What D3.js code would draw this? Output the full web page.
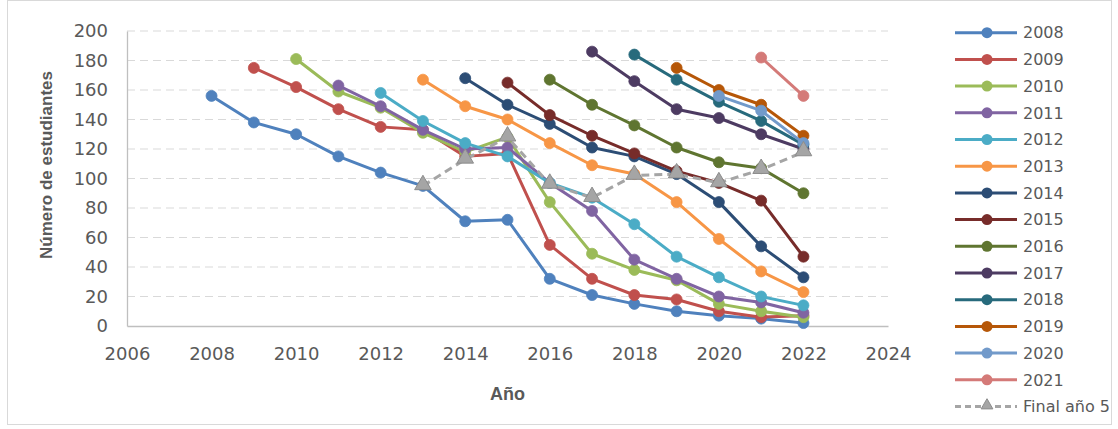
<!DOCTYPE html>
<html>
<head>
<meta charset="utf-8">
<script src="https://cdn.jsdelivr.net/npm/d3@7"></script>
<style>
  html, body { margin: 0; padding: 0; background: #fff; }
  svg { display: block; }
  text { font-family: "DejaVu Sans", "Liberation Sans", sans-serif; fill: #595959; }
  text.title { font-family: "Liberation Sans", "DejaVu Sans", sans-serif; }
</style>
</head>
<body>
<svg id="chart" width="1118" height="429"></svg>
<script>
// ---- Data ----
const cohorts = ["2008","2009","2010","2011","2012","2013","2014","2015","2016","2017","2018","2019","2020","2021"];
const cohortStart = [2008,2009,2010,2011,2012,2013,2014,2015,2016,2017,2018,2019,2020,2021];
const s2008 = [156, 138, 130, 115, 104, 95, 71, 72, 32, 21, 15, 10, 7, 5, 2];
const s2009 = [175, 162, 147, 135, 133, 115, 117, 55, 32, 21, 18, 10, 6, 7];
const s2010 = [181, 159, 148, 131, 118, 128, 84, 49, 38, 31, 15, 10, 6];
const s2011 = [163, 149, 133, 120, 121, 97, 78, 45, 32, 20, 16, 9];
const s2012 = [158, 139, 124, 115, 97, 87, 69, 47, 33, 20, 14];
const s2013 = [167, 149, 140, 124, 109, 103, 84, 59, 37, 23];
const s2014 = [168, 150, 137, 121, 115, 103, 84, 54, 33];
const s2015 = [165, 143, 129, 117, 105, 97, 85, 47];
const s2016 = [167, 150, 136, 121, 111, 107, 90];
const s2017 = [186, 166, 147, 141, 130, 120];
const s2018 = [184, 167, 152, 139, 123];
const s2019 = [175, 160, 150, 129];
const s2020 = [156, 146, 124];
const s2021 = [182, 156];
const seriesValues = [s2008, s2009, s2010, s2011, s2012, s2013, s2014, s2015, s2016, s2017, s2018, s2019, s2020, s2021];
const finalLabel = "Final año 5";
const finalYears = [2013, 2014, 2015, 2016, 2017, 2018, 2019, 2020, 2021, 2022];
const finalValues = [95, 113, 128, 96, 87, 102, 103, 97, 106, 118];
const xTicks = [2006, 2008, 2010, 2012, 2014, 2016, 2018, 2020, 2022, 2024];
const yTicks = [0, 20, 40, 60, 80, 100, 120, 140, 160, 180, 200];

const colors = ["#4F81BD","#C0504D","#9BBB59","#8064A2","#4BACC6","#F79646","#2C4D75","#772C2A","#5F7530","#4D3B62","#276A7C","#B65708","#729ACA","#D47A78"];

// ---- Layout ----
const svg = d3.select("#chart");
const L = 127, R = 888, T = 31, B = 326;
const x = d3.scaleLinear().domain([2006, 2024]).range([L, R]);
const y = d3.scaleLinear().domain([0, 200]).range([B, T]);

// frame
svg.append("rect").attr("x", 7.5).attr("y", 0.5).attr("width", 1104).attr("height", 424)
  .attr("fill", "none").attr("stroke", "#d9d9d9");

// gridlines
svg.append("g").selectAll("line").data(yTicks.filter(d => d > 0)).join("line")
  .attr("x1", L).attr("x2", R).attr("y1", d => y(d)).attr("y2", d => y(d))
  .attr("stroke", "#d9d9d9").attr("stroke-width", 1.2).attr("stroke-dasharray", "8,5");

// axes
const yAxis = d3.axisLeft(y).tickValues(yTicks).tickSize(0).tickPadding(19);
const gy = svg.append("g").attr("transform", `translate(${L},0)`).call(yAxis);
gy.select(".domain").attr("stroke", "#bfbfbf").attr("stroke-width", 1.3);
gy.selectAll("text").style("font-family", "DejaVu Sans").style("font-size", "18px").attr("fill", "#595959");

const xAxis = d3.axisBottom(x).tickValues(xTicks).tickFormat(d3.format("d")).tickSize(0).tickPadding(21);
const gx = svg.append("g").attr("transform", `translate(0,${B})`).call(xAxis);
gx.select(".domain").attr("stroke", "#bfbfbf").attr("stroke-width", 1.3);
gx.selectAll("text").style("font-family", "DejaVu Sans").style("font-size", "18px").attr("fill", "#595959");

// axis titles
svg.append("text").attr("class", "title").attr("x", (L + R) / 2).attr("y", 400).attr("text-anchor", "middle")
  .style("font-size", "18px").style("font-weight", "bold").text("Año");
svg.append("text").attr("class", "title").attr("transform", "translate(52,165) rotate(-90)").attr("text-anchor", "middle")
  .style("font-size", "17px").style("font-weight", "bold").text("Número de estudiantes");

// series
const line = d3.line().x(d => x(d[0])).y(d => y(d[1]));
seriesValues.forEach((vals, i) => {
  const pts = vals.map((v, j) => [cohortStart[i] + j, v]);
  const g = svg.append("g");
  g.append("path").datum(pts).attr("d", line).attr("fill", "none")
    .attr("stroke", colors[i]).attr("stroke-width", 3).attr("stroke-linejoin", "round");
  g.selectAll("circle").data(pts).join("circle")
    .attr("cx", d => x(d[0])).attr("cy", d => y(d[1])).attr("r", 5.5)
    .attr("fill", colors[i]).attr("stroke", colors[i]).attr("stroke-width", 0.8);
});

// final año 5
const fpts = finalYears.map((yr, j) => [yr, finalValues[j]]);
const tri = d3.symbol().type(d3.symbolTriangle).size(120);
const fg = svg.append("g");
fg.append("path").datum(fpts).attr("d", line).attr("fill", "none")
  .attr("stroke", "#A5A5A5").attr("stroke-width", 3).attr("stroke-dasharray", "8,5");
fg.selectAll("path.m").data(fpts).join("path").attr("class", "m")
  .attr("transform", d => `translate(${x(d[0])},${y(d[1]) - 1})`).attr("d", tri)
  .attr("fill", "#A5A5A5").attr("stroke", "#8c8c8c").attr("stroke-width", 1);

// legend
const legY0 = 32.7, legStep = 26.7;
const lg = svg.append("g");
cohorts.forEach((name, i) => {
  const yy = legY0 + i * legStep;
  lg.append("line").attr("x1", 955).attr("x2", 1017).attr("y1", yy).attr("y2", yy)
    .attr("stroke", colors[i]).attr("stroke-width", 3);
  lg.append("circle").attr("cx", 987).attr("cy", yy).attr("r", 5.5).attr("fill", colors[i]);
  lg.append("text").attr("x", 1023).attr("y", yy).attr("dy", "0.36em")
    .style("font-size", "16px").text(name);
});
{
  const yy = legY0 + cohorts.length * legStep;
  lg.append("line").attr("x1", 955).attr("x2", 1017).attr("y1", yy).attr("y2", yy)
    .attr("stroke", "#A5A5A5").attr("stroke-width", 3).attr("stroke-dasharray", "6,4");
  lg.append("path").attr("transform", `translate(987,${yy - 1})`).attr("d", d3.symbol().type(d3.symbolTriangle).size(60))
    .attr("fill", "#A5A5A5").attr("stroke", "#8c8c8c");
  lg.append("text").attr("x", 1023).attr("y", yy).attr("dy", "0.36em")
    .style("font-size", "16px").text(finalLabel);
}
</script>
</body>
</html>
